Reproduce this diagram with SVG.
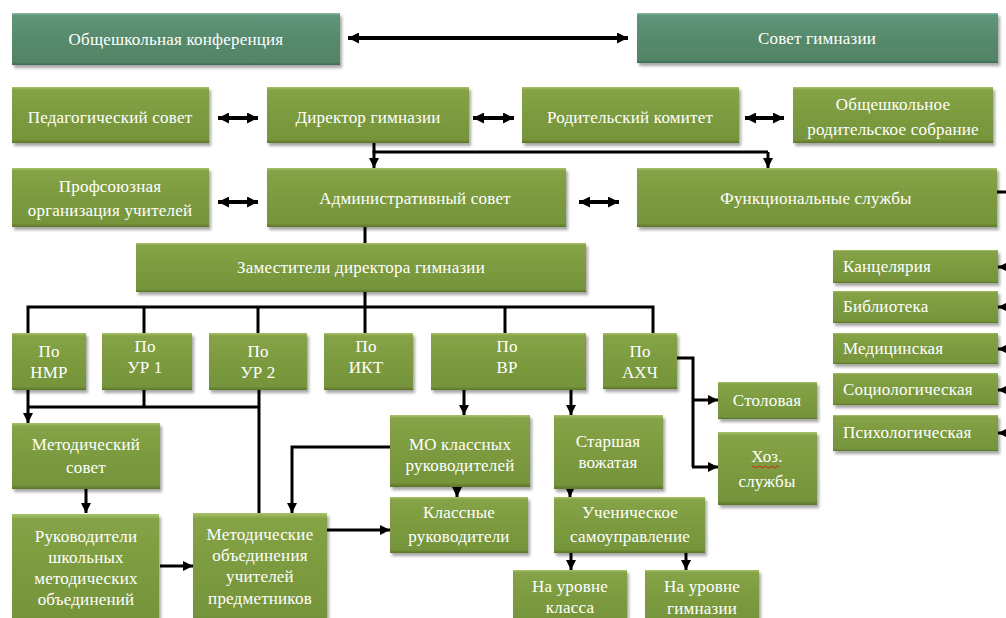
<svg xmlns="http://www.w3.org/2000/svg" width="1006" height="618" viewBox="0 0 1006 618" font-family="'Liberation Serif', 'Times New Roman', serif">
<style>
.b{fill:url(#gG);filter:url(#sh)}
.t{fill:url(#gT);filter:url(#sh)}
.tx{font-family:'Liberation Serif','Times New Roman',serif;font-size:17px;letter-spacing:0.2px;fill:#ffffff}
.c{text-anchor:middle}
.ln{fill:none;stroke:#000;stroke-width:3}
.ar{fill:none;stroke:#000;stroke-width:3;marker-end:url(#ah)}
.da{fill:none;stroke:#000;stroke-width:4;marker-start:url(#ah2);marker-end:url(#ah2)}
</style>
<defs>
<linearGradient id="gG" x1="0" y1="0" x2="0" y2="1">
<stop offset="0" stop-color="#a8c36a"/>
<stop offset="0.05" stop-color="#85a346"/>
<stop offset="0.5" stop-color="#7c9b3f"/>
<stop offset="0.94" stop-color="#76943a"/>
<stop offset="1" stop-color="#5a7529"/>
</linearGradient>
<linearGradient id="gT" x1="0" y1="0" x2="0" y2="1">
<stop offset="0" stop-color="#8cbc9a"/>
<stop offset="0.05" stop-color="#5f957a"/>
<stop offset="0.5" stop-color="#578a6c"/>
<stop offset="0.94" stop-color="#528466"/>
<stop offset="1" stop-color="#3c6a4f"/>
</linearGradient>
<filter id="sh" x="-10%" y="-10%" width="120%" height="130%">
<feDropShadow dx="2" dy="3" stdDeviation="1.8" flood-color="#000" flood-opacity="0.35"/>
</filter>
<marker id="ah" viewBox="0 0 10 10" refX="10" refY="5" markerWidth="10" markerHeight="10" markerUnits="userSpaceOnUse" orient="auto-start-reverse">
<path d="M0,0 L10,5 L0,10 z" fill="#000"/>
</marker>
<marker id="ah2" viewBox="0 0 10 10" refX="10" refY="5" markerWidth="11" markerHeight="11" markerUnits="userSpaceOnUse" orient="auto-start-reverse">
<path d="M0,0 L10,5 L0,10 z" fill="#000"/>
</marker>
</defs>
<rect width="1006" height="618" fill="#ffffff"/>

<g id="connectors">
<path class="da" d="M348,38 H628"/>
<path class="da" d="M218,118 H258"/>
<path class="da" d="M473,118 H514"/>
<path class="da" d="M745,118 H784"/>
<path class="da" d="M218,202 H258"/>
<path class="da" d="M579,202 H619"/>
<path class="ln" d="M374,143 V152 H768"/>
<path class="ar" d="M374,151 V168"/>
<path class="ar" d="M768,152 V168"/>
<path class="ln" d="M365,227 V243"/>
<path class="ln" d="M365,292 V333"/>
<path class="ln" d="M28,333 V307 H653 V333"/>
<path class="ln" d="M144,307 V333"/>
<path class="ln" d="M258,307 V333"/>
<path class="ln" d="M505,307 V333"/>
<path class="ar" d="M28,390 V423"/>
<path class="ln" d="M28,407 H258"/>
<path class="ln" d="M144,390 V407"/>
<path class="ln" d="M259,390 V513"/>
<path class="ar" d="M86,489 V513"/>
<path class="ar" d="M160,566 H193"/>
<path class="ar" d="M327,530 H390"/>
<path class="ar" d="M390,447 H292 V513"/>
<path class="ar" d="M464,390 V415"/>
<path class="ar" d="M571,390 V415"/>
<path class="ar" d="M457,487 V497"/>
<path class="ar" d="M570,487 V497"/>
<path class="ar" d="M571,553 V570"/>
<path class="ar" d="M686,553 V570"/>
<path class="ln" d="M677,358 H693 V467"/>
<path class="ar" d="M693,400 H718"/>
<path class="ar" d="M692,467 H718"/>
<path class="ln" d="M997,192 H1006"/>
<path class="ar" d="M1008,267 H998"/>
<path class="ar" d="M1008,307 H998"/>
<path class="ar" d="M1008,349 H998"/>
<path class="ar" d="M1008,390 H998"/>
<path class="ar" d="M1008,433 H998"/>
</g>

<g id="conf"><rect class="t" x="12" y="13" width="328" height="52"/><text class="tx c" x="176" y="45">Общешкольная конференция</text></g>
<g id="sovet"><rect class="t" x="637" y="13" width="361" height="50"/><text class="tx c" x="817" y="44">Совет гимназии</text></g>
<g id="ped"><rect class="b" x="12" y="87" width="197" height="56"/><text class="tx c" x="110" y="123">Педагогический совет</text></g>
<g id="dir"><rect class="b" x="267" y="87" width="202" height="56"/><text class="tx c" x="368" y="123">Директор гимназии</text></g>
<g id="rod"><rect class="b" x="522" y="87" width="217" height="56"/><text class="tx c" x="630" y="123">Родительский комитет</text></g>
<g id="obsh"><rect class="b" x="793" y="87" width="200" height="56"/><text class="tx c" x="893" y="110">Общешкольное<tspan x="893" dy="25">родительское собрание</tspan></text></g>
<g id="prof"><rect class="b" x="12" y="168" width="197" height="59"/><text class="tx c" x="110" y="192">Профсоюзная<tspan x="110" dy="24">организация учителей</tspan></text></g>
<g id="adm"><rect class="b" x="267" y="168" width="299" height="59"/><text class="tx c" x="415" y="204">Административный совет</text></g>
<g id="func"><rect class="b" x="637" y="168" width="360" height="59"/><text class="tx c" x="816" y="204">Функциональные службы</text></g>
<g id="zam"><rect class="b" x="136" y="243" width="450" height="49"/><text class="tx c" x="361" y="273">Заместители директора гимназии</text></g>
<g id="nmr"><rect class="b" x="12" y="333" width="74" height="57"/><text class="tx c" x="49" y="357">По<tspan x="49" dy="21">НМР</tspan></text></g>
<g id="ur1"><rect class="b" x="102" y="333" width="90" height="57"/><text class="tx c" x="145" y="352">По<tspan x="145" dy="21">УР 1</tspan></text></g>
<g id="ur2"><rect class="b" x="209" y="333" width="98" height="57"/><text class="tx c" x="258" y="357">По<tspan x="258" dy="21">УР 2</tspan></text></g>
<g id="ikt"><rect class="b" x="324" y="333" width="89" height="57"/><text class="tx c" x="366" y="352">По<tspan x="366" dy="21">ИКТ</tspan></text></g>
<g id="vr"><rect class="b" x="431" y="333" width="155" height="57"/><text class="tx c" x="507" y="352">По<tspan x="507" dy="21">ВР</tspan></text></g>
<g id="ahch"><rect class="b" x="603" y="333" width="74" height="56"/><text class="tx c" x="640" y="357">По<tspan x="640" dy="21">АХЧ</tspan></text></g>
<g id="stol"><rect class="b" x="718" y="382" width="99" height="37"/><text class="tx c" x="767" y="406">Столовая</text></g>
<g id="hoz"><rect class="b" x="718" y="432" width="99" height="73"/><text class="tx c" x="767" y="462">Хоз.<tspan x="767" dy="25">службы</tspan></text><path d="M752,467 q1.5,-2 3,0 t3,0 t3,0 t3,0 t3,0 t3,0 t3,0 t3,0 t3,0" fill="none" stroke="#d02020" stroke-width="1"/></g>
<g id="kanc"><rect class="b" x="833" y="250" width="165" height="33"/><text class="tx" x="843" y="272">Канцелярия</text></g>
<g id="bibl"><rect class="b" x="833" y="291" width="165" height="32"/><text class="tx" x="843" y="312">Библиотека</text></g>
<g id="med"><rect class="b" x="833" y="333" width="165" height="31"/><text class="tx" x="843" y="354">Медицинская</text></g>
<g id="soc"><rect class="b" x="833" y="373" width="165" height="32"/><text class="tx" x="843" y="395">Социологическая</text></g>
<g id="psy"><rect class="b" x="833" y="415" width="165" height="36"/><text class="tx" x="843" y="438">Психологическая</text></g>
<g id="metsov"><rect class="b" x="12" y="423" width="148" height="66"/><text class="tx c" x="86" y="450">Методический<tspan x="86" dy="23">совет</tspan></text></g>
<g id="ruk"><rect class="b" x="12" y="514" width="147" height="110"/><text class="tx c" x="86" y="542">Руководители<tspan x="86" dy="21">школьных</tspan><tspan x="86" dy="21">методических</tspan><tspan x="86" dy="21">объединений</tspan></text></g>
<g id="metob"><rect class="b" x="193" y="513" width="134" height="110"/><text class="tx c" x="260" y="540">Методические<tspan x="260" dy="21">объединения</tspan><tspan x="260" dy="21">учителей</tspan><tspan x="260" dy="22">предметников</tspan></text></g>
<g id="mokl"><rect class="b" x="390" y="415" width="140" height="72"/><text class="tx c" x="460" y="450">МО классных<tspan x="460" dy="21">руководителей</tspan></text></g>
<g id="star"><rect class="b" x="554" y="415" width="109" height="74"/><text class="tx c" x="608" y="447">Старшая<tspan x="608" dy="21">вожатая</tspan></text></g>
<g id="klas"><rect class="b" x="390" y="497" width="138" height="56"/><text class="tx c" x="459" y="518">Классные<tspan x="459" dy="24">руководители</tspan></text></g>
<g id="uch"><rect class="b" x="554" y="497" width="151" height="56"/><text class="tx c" x="630" y="518">Ученическое<tspan x="630" dy="24">самоуправление</tspan></text></g>
<g id="nakl"><rect class="b" x="513" y="570" width="114" height="55"/><text class="tx c" x="570" y="592">На уровне<tspan x="570" dy="21">класса</tspan></text></g>
<g id="nagim"><rect class="b" x="645" y="570" width="114" height="55"/><text class="tx c" x="702" y="592">На уровне<tspan x="702" dy="22">гимназии</tspan></text></g>
</svg>
